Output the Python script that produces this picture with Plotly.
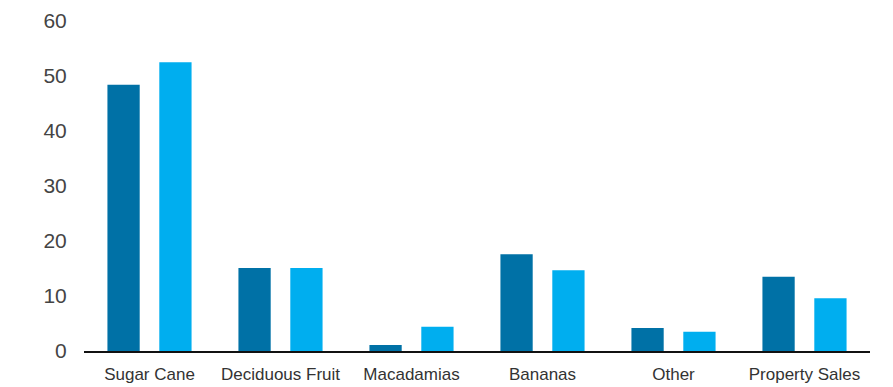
import plotly.graph_objects as go

categories = ["Sugar Cane", "Deciduous Fruit", "Macadamias", "Bananas", "Other", "Property Sales"]
series_a = [48.4, 15.1, 1.1, 17.6, 4.2, 13.5]
series_b = [52.5, 15.1, 4.4, 14.7, 3.5, 9.6]
y_ticks = [0, 10, 20, 30, 40, 50, 60]

fig = go.Figure()
fig.add_trace(go.Bar(x=categories, y=series_a, marker=dict(color="#0071A6", line=dict(width=0)),
                     showlegend=False))
fig.add_trace(go.Bar(x=categories, y=series_b, marker=dict(color="#00AEEF", line=dict(width=0)),
                     showlegend=False))

fig.update_layout(
    width=893, height=387,
    margin=dict(l=84, r=23, t=21, b=36),
    paper_bgcolor="white", plot_bgcolor="white",
    barmode="group", bargap=0.208, bargroupgap=0.378,
    font=dict(family="Liberation Sans, Arial, sans-serif", color="#333333"),
    xaxis=dict(
        showline=True, linecolor="#111111", linewidth=2, automargin=False,
        showgrid=False, ticks="outside", ticklen=7, tickcolor="rgba(0,0,0,0)",
        tickfont=dict(size=17, color="#333333"),
    ),
    yaxis=dict(
        range=[0, 60], tickvals=y_ticks, showgrid=False, zeroline=False, showline=False,
        automargin=False,
        ticks="outside", ticklen=12, tickcolor="rgba(0,0,0,0)",
        tickfont=dict(size=21, color="#444444"),
    ),
)

fig.write_html("out.html")
